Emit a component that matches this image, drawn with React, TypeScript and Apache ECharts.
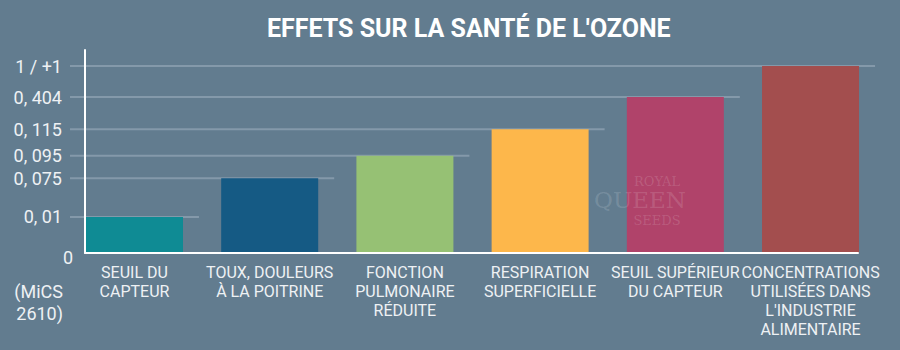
import React, { useEffect, useRef } from "react";
import * as echarts from "echarts";

const TITLE = "EFFETS SUR LA SANTÉ DE L'OZONE";
const UNIT_NOTE = "(MiCS\n2610)";
const WATERMARK = ["ROYAL", "QUEEN", "SEEDS"];

const categories = [
  "SEUIL DU\nCAPTEUR",
  "TOUX, DOULEURS\nÀ LA POITRINE",
  "FONCTION\nPULMONAIRE\nRÉDUITE",
  "RESPIRATION\nSUPERFICIELLE",
  "SEUIL SUPÉRIEUR\nDU CAPTEUR",
  "CONCENTRATIONS\nUTILISÉES DANS\nL'INDUSTRIE\nALIMENTAIRE",
];
const values = [0.01, 0.075, 0.095, 0.115, 0.404, 1];

// non-linear axis: each tick value and where it sits (0..100 display scale)
const tickValues = [0, 0.01, 0.075, 0.095, 0.115, 0.404, 1];
const tickLabels = ["0", "0, 01", "0, 075", "0, 095", "0, 115", "0, 404", "1 / +1"];
const tickLevels = [0, 19.3, 40, 52, 66.2, 83.4, 100];

const barColors = ["#0f8b94", "#155a84", "#96c174", "#fdb74b", "#b0436a", "#a34e4e"];

const BG = "#627c8f";
const GRID_COLOR = "#8499aa";
const TEXT_COLOR = "#eef1f4";
const FONT = "Roboto, 'Noto Sans', sans-serif";
const SERIF = "'DejaVu Serif', 'Liberation Serif', serif";
const BAR_W = 97;

const levelOf = (v: number) => tickLevels[tickValues.indexOf(v)];

export default function App() {
  const ref = useRef<HTMLDivElement>(null);
  useEffect(() => {
    document.body.style.margin = "0";
    const chart = echarts.init(ref.current!, null, { renderer: "svg" });
    const points = values.map((v, i) => [i, levelOf(v)]);
    const wm = (text: string, x: number, y: number, size: number) => ({
      type: "text",
      x,
      y,
      z: 50,
      zlevel: 1,
      silent: true,
      style: {
        text,
        fill: "rgba(255,255,255,0.14)",
        font: size + "px " + SERIF,
        textAlign: "center",
        textVerticalAlign: "middle",
      },
    });
    chart.setOption({
      animation: false,
      backgroundColor: BG,
      title: {
        text: TITLE,
        left: 262,
        top: 11,
        textStyle: { color: "#ffffff", fontFamily: FONT, fontWeight: "bold", fontSize: 25 },
      },
      grid: { left: 85, right: 42, top: 50, bottom: 97, containLabel: false, outerBoundsMode: "none" },
      xAxis: {
        type: "value",
        min: -0.366,
        max: 5.351,
        axisLine: { show: true, onZero: false, lineStyle: { color: "#ffffff", width: 2 } },
        axisTick: { show: false },
        splitLine: { show: false },
        axisLabel: {
          customValues: categories.map((_, i) => i),
          formatter: (v: number) => categories[Math.round(v)] ?? "",
          margin: 10,
          color: TEXT_COLOR,
          fontFamily: FONT,
          fontSize: 16,
          lineHeight: 19,
          verticalAlign: "top",
        },
        z: 5,
      },
      yAxis: {
        type: "value",
        min: 0,
        max: 108.6,
        axisLine: { show: true, onZero: false, lineStyle: { color: "#ffffff", width: 2 } },
        axisTick: { show: false },
        splitLine: { show: false },
        axisLabel: {
          customValues: tickLevels,
          margin: 12,
          formatter: (v: number) => {
            let best = 0;
            tickLevels.forEach((l, i) => {
              if (Math.abs(l - v) < Math.abs(tickLevels[best] - v)) best = i;
            });
            return best === 0 ? "{z|" + tickLabels[0] + "}" : "{a|" + tickLabels[best] + "}";
          },
          rich: {
            a: { color: TEXT_COLOR, fontFamily: FONT, fontSize: 18, padding: [0, 11, 0, 0] },
            z: { color: TEXT_COLOR, fontFamily: FONT, fontSize: 18, padding: [8, 0, 0, 0] },
          },
        },
        z: 5,
      },
      graphic: [
        {
          type: "text",
          x: 63,
          y: 280,
          style: {
            text: UNIT_NOTE,
            fill: TEXT_COLOR,
            font: "18px " + FONT,
            lineHeight: 22,
            textAlign: "right",
          },
        },
        wm(WATERMARK[0], 657, 181, 13),
        wm(WATERMARK[1], 640, 200, 23),
        wm(WATERMARK[2], 657, 220, 13),
      ],
      series: [
        {
          type: "custom",
          coordinateSystem: "cartesian2d",
          z: 1,
          silent: true,
          data: points,
          encode: { x: 0, y: 1 },
          renderItem: (params: any, api: any) => {
            const p = api.coord([api.value(0), api.value(1)]);
            const x0 = params.coordSys.x - 15;
            const x1 = p[0] + BAR_W / 2 + 16;
            return {
              type: "line",
              shape: { x1: x0, y1: p[1], x2: x1, y2: p[1] },
              style: { stroke: GRID_COLOR, lineWidth: 2 },
            };
          },
        },
        {
          type: "bar",
          z: 3,
          barWidth: BAR_W,
          data: points.map((p, i) => ({ value: p, itemStyle: { color: barColors[i] } })),
        },
      ],
    });
    return () => chart.dispose();
  }, []);
  return <div ref={ref} style={{ width: 900, height: 350 }} />;
}
